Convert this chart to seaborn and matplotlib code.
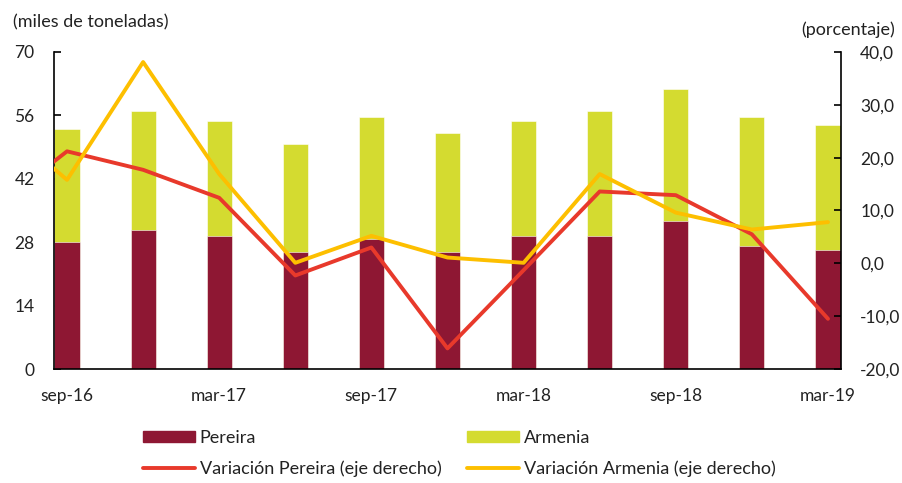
import numpy as np
import pandas as pd
import seaborn as sns
import matplotlib.pyplot as plt
from matplotlib.patches import Patch
from matplotlib.lines import Line2D
from matplotlib.ticker import FuncFormatter, FixedLocator

# quarters; jun-16 only feeds the start of the lines (clipped at the axis)
categories = ['jun-16', 'sep-16', 'dic-16', 'mar-17', 'jun-17', 'sep-17', 'dic-17',
              'mar-18', 'jun-18', 'sep-18', 'dic-18', 'mar-19']
pereira = [np.nan, 28.0, 30.6, 29.3, 25.8, 28.8, 25.8, 29.3, 29.4, 32.7, 27.1, 26.2]
armenia = [np.nan, 25.1, 26.4, 25.5, 23.8, 26.9, 26.4, 25.5, 27.6, 29.1, 28.6, 27.7]
var_pereira = [10.0, 21.2, 17.7, 12.4, -2.3, 3.0, -16.1, -1.3, 13.6, 12.9, 5.5, -10.5]
var_armenia = [28.2, 15.8, 38.1, 16.9, 0.1, 5.2, 1.1, 0.1, 16.9, 9.6, 6.4, 7.8]
tick_labels = ['sep-16', 'mar-17', 'sep-17', 'mar-18', 'sep-18', 'mar-19']

c_per = '#8E1733'
c_arm = '#D4DB30'
c_vper = '#E8392B'
c_varm = '#FDBF00'
txt = '#222222'

sns.set_style('white')
plt.rcParams['font.family'] = ['Lato', 'DejaVu Sans']
plt.rcParams['font.size'] = 12

df = pd.DataFrame({'trim': categories, 'pereira': pereira, 'armenia': armenia,
                   'var_pereira': var_pereira, 'var_armenia': var_armenia})
df['total'] = df['pereira'] + df['armenia']
df['pos'] = np.arange(len(df))

fig = plt.figure(figsize=(9.03, 4.83), dpi=100)
ax = fig.add_axes([54 / 903, 1 - 369 / 483, (840.7 - 54) / 903, (369 - 52) / 483])

sns.barplot(data=df, x='trim', y='total', order=categories, color=c_arm, width=0.33,
            saturation=1, edgecolor='white', linewidth=0.4, ax=ax)
sns.barplot(data=df, x='trim', y='pereira', order=categories, color=c_per, width=0.33,
            saturation=1, edgecolor='white', linewidth=0.4, ax=ax)

ax2 = ax.twinx()
sns.lineplot(data=df, x='pos', y='var_pereira', color=c_vper, lw=2.8, ax=ax2)
sns.lineplot(data=df, x='pos', y='var_armenia', color=c_varm, lw=2.8, ax=ax2)

ax.set_ylim(0, 70)
ax.set_yticks(np.arange(0, 71, 14))
ax2.set_ylim(-20, 40)
ax2.set_yticks(np.arange(-20, 41, 10))
ax2.yaxis.set_major_formatter(FuncFormatter(lambda v, p: f'{v:.1f}'.replace('.', ',')))

ax.set_xlim(0.829, 11.167)
ax.xaxis.set_major_locator(FixedLocator([1, 3, 5, 7, 9, 11]))
ax.set_xticklabels(tick_labels)
ax.xaxis.set_minor_locator(FixedLocator([i - 0.165 for i in [1, 3, 5, 7, 9, 11]]))
for a in (ax, ax2):
    a.set_xlabel('')
    a.set_ylabel('')

ax.tick_params(axis='x', which='major', length=0, pad=14, labelsize=12.5, colors=txt)
ax.tick_params(axis='x', which='minor', length=5, width=1.2, direction='in', color='black')
for a in (ax, ax2):
    a.tick_params(axis='y', length=5, width=1.2, direction='in', pad=14, labelsize=12.5,
                  colors=txt)
    a.tick_params(axis='y', color='black')
    a.spines['top'].set_visible(False)
    for s in ('left', 'right', 'bottom'):
        a.spines[s].set_color('black')
        a.spines[s].set_linewidth(1.2)
    a.grid(False)
ax.spines['right'].set_visible(False)
ax2.spines['left'].set_visible(False)
ax2.spines['bottom'].set_visible(False)

fig.text(13 / 903, 1 - 22 / 483, '(miles de toneladas)', va='center', ha='left',
         fontsize=13, color=txt)
fig.text(895 / 903, 1 - 30 / 483, '(porcentaje)', va='center', ha='right',
         fontsize=13, color=txt)

# legend filled column-wise: Pereira / Variación Pereira, then Armenia / Variación Armenia
handles = [Patch(color=c_per), Line2D([], [], color=c_vper, lw=2.8),
           Patch(color=c_arm), Line2D([], [], color=c_varm, lw=2.8)]
labels = ['Pereira', 'Variación Pereira (eje derecho)',
          'Armenia', 'Variación Armenia (eje derecho)']
fig.legend(handles, labels, ncol=2, loc='upper left', bbox_to_anchor=(143 / 903, 1 - 430 / 483),
           frameon=False, borderpad=0, borderaxespad=0, handlelength=2.9, handleheight=0.6,
           handletextpad=0.25, columnspacing=1.4, labelspacing=0.8, fontsize=13,
           labelcolor=txt)

fig.savefig('out.png', dpi=100)
